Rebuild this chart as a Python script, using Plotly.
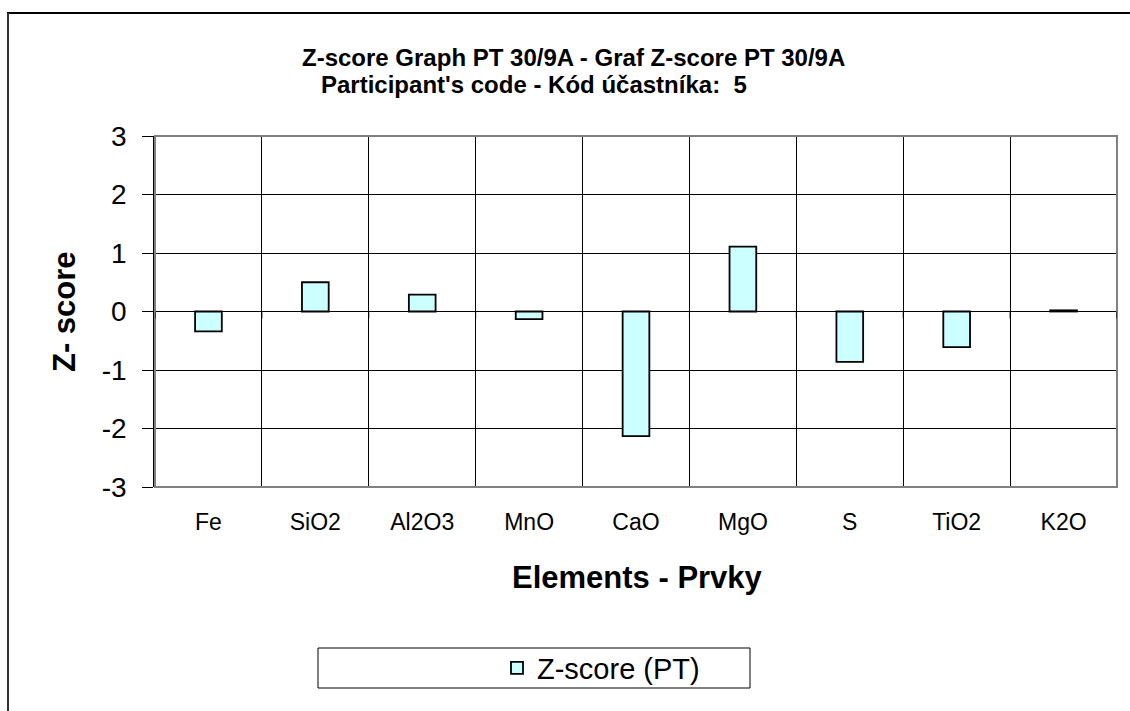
import plotly.graph_objects as go

categories = ["Fe", "SiO2", "Al2O3", "MnO", "CaO", "MgO", "S", "TiO2", "K2O"]
z_scores = [-0.34, 0.50, 0.29, -0.13, -2.13, 1.11, -0.86, -0.61, 0.02]
y_ticks = [-3, -2, -1, 0, 1, 2, 3]
y_tick_text = ["-3", "-2", "-1", "0", "1", "2", "3"]
series_name = "Z-score (PT)"

W, H = 1130, 711
L, R, T, B = 155, 1117, 136, 487  # plot area pixel bounds

def px_x(px):
    return (px - L) / (R - L)

def px_y(py):
    return (B - py) / (B - T)

FONT = "Arial, Liberation Sans, sans-serif"

fig = go.Figure()
fig.add_trace(go.Bar(
    x=categories, y=z_scores, name=series_name, width=0.25,
    marker=dict(color="#CCFFFF", line=dict(color="black", width=1.8)),
    showlegend=True,
))

shapes = []
# plot-area border
shapes.append(dict(type="rect", xref="paper", yref="paper", x0=0, x1=1, y0=0, y1=1,
                   line=dict(color="#808080", width=2), layer="above"))
# small ticks at category boundaries on the zero line
for i in range(len(categories) + 1):
    shapes.append(dict(type="line", xref="x", yref="y", x0=i - 0.5, x1=i - 0.5,
                       y0=0, y1=-0.12, line=dict(color="black", width=1)))
# outer chart border (top and left)
shapes.append(dict(type="line", xref="paper", yref="paper",
                   x0=px_x(7), x1=px_x(1131), y0=px_y(13), y1=px_y(13),
                   line=dict(color="black", width=2)))
shapes.append(dict(type="line", xref="paper", yref="paper",
                   x0=px_x(8), x1=px_x(8), y0=px_y(13), y1=px_y(712),
                   line=dict(color="#333333", width=2)))
# legend box
shapes.append(dict(type="rect", xref="paper", yref="paper",
                   x0=px_x(318), x1=px_x(750), y0=px_y(688), y1=px_y(648),
                   line=dict(color="black", width=1), fillcolor="white", layer="below"))

annotations = [
    dict(text="<b>Z-score Graph PT 30/9A - Graf Z-score PT 30/9A</b>", xref="paper", yref="paper",
         x=px_x(573), y=px_y(58), showarrow=False, font=dict(size=24, family=FONT, color="black"),
         xanchor="center", yanchor="middle"),
    dict(text="<b>Participant's code - Kód účastníka:  5</b>", xref="paper", yref="paper",
         x=px_x(534), y=px_y(84), showarrow=False, font=dict(size=24, family=FONT, color="black"),
         xanchor="center", yanchor="middle"),
    dict(text="<b>Z- score</b>", xref="paper", yref="paper", x=px_x(64), y=px_y(312),
         showarrow=False, textangle=-90, font=dict(size=31, family=FONT, color="black"),
         xanchor="center", yanchor="middle"),
    dict(text="<b>Elements - Prvky</b>", xref="paper", yref="paper", x=px_x(637), y=px_y(577),
         showarrow=False, font=dict(size=31, family=FONT, color="black"),
         xanchor="center", yanchor="middle"),
]

fig.update_layout(
    width=W, height=H,
    margin=dict(l=L, r=W - R, t=T, b=H - B, pad=0),
    paper_bgcolor="white", plot_bgcolor="white",
    font=dict(family=FONT, color="black"),
    shapes=shapes, annotations=annotations,
    bargap=0.75,
    showlegend=True,
    legend=dict(x=px_x(497), y=px_y(668), xanchor="left", yanchor="middle",
                bgcolor="rgba(0,0,0,0)", borderwidth=0,
                font=dict(size=29, family=FONT, color="black")),
    xaxis=dict(type="category", tickson="boundaries", showgrid=True, gridcolor="black",
               gridwidth=1, ticks="", showline=False, zeroline=False,
               tickfont=dict(size=23, family=FONT, color="black"),
               ticklabelstandoff=19, range=[-0.5, len(categories) - 0.5]),
    yaxis=dict(range=[-3, 3], tickvals=y_ticks, ticktext=y_tick_text,
               showgrid=True, gridcolor="black", gridwidth=1,
               zeroline=True, zerolinecolor="black", zerolinewidth=1,
               showline=True, linecolor="black", linewidth=1.5,
               ticks="outside", ticklen=11, tickcolor="black",
               tickfont=dict(size=28, family=FONT, color="black"),
               ticklabelstandoff=10),
)

fig.write_html("out.html", config={"displayModeBar": False},
               post_script="document.body.style.margin='0';")
